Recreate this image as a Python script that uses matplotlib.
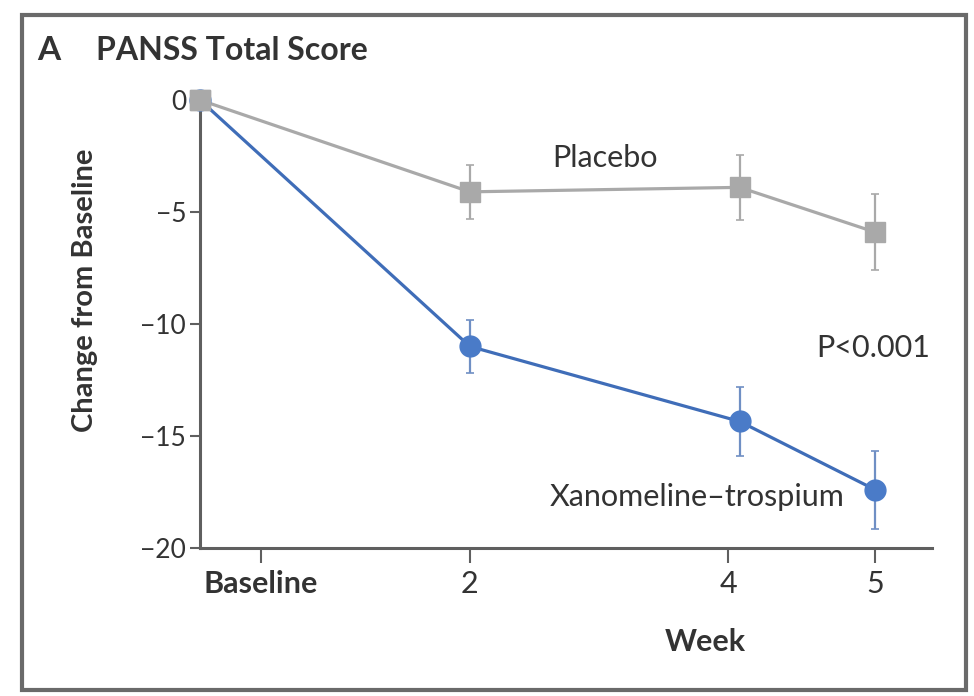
import matplotlib
matplotlib.use("Agg")
import matplotlib.pyplot as plt
from matplotlib.patches import Rectangle

plt.rcParams["font.family"] = ["Lato", "DejaVu Sans"]

# ── Данные ────────────────────────────────────────────────────────────────────
week_labels = ["Baseline", "2", "4", "5"]
placebo_mean = [0.0, -4.1, -3.9, -5.9]
placebo_err = [0.0, 1.2, 1.45, 1.7]
xano_mean = [0.0, -11.0, -14.35, -17.4]
xano_err = [0.0, 1.2, 1.55, 1.75]

# положения по оси x (ось нелинейная, как в оригинале)
point_x = [0.0, 2.09, 4.18, 5.23]
tick_x = [0.47, 2.09, 4.09, 5.23]

GRAY = "#a9a9a9"
BLUE = "#4a7bc8"
AXIS = "#5f5f5f"
TEXT = "#333333"

fig = plt.figure(figsize=(9.74, 6.96), dpi=100)
ax = fig.add_axes([200 / 974, 1 - 548 / 696, 732 / 974, 448 / 696])

# рамка вокруг всей картинки
fig.patches.append(Rectangle((22 / 974, 1 - 690 / 696), 944 / 974, 675 / 696,
                             transform=fig.transFigure, fill=False,
                             edgecolor="#6a6a6a", linewidth=3))

ax.errorbar(point_x[1:], placebo_mean[1:], yerr=placebo_err[1:], fmt="none",
            ecolor=GRAY, elinewidth=1.6, capsize=3, capthick=1.2, clip_on=False)
ax.plot(point_x, placebo_mean, color=GRAY, lw=2.3, marker="s", ms=14,
        clip_on=False, zorder=3)

ax.errorbar(point_x[1:], xano_mean[1:], yerr=xano_err[1:], fmt="none",
            ecolor="#6f8fc4", elinewidth=1.6, capsize=3, capthick=1.2, clip_on=False)
ax.plot(point_x, xano_mean, color="#3f6db8", lw=2.3, marker="o", ms=15,
        markerfacecolor=BLUE, markeredgecolor=BLUE, clip_on=False, zorder=3)
# квадрат плацебо в базовой точке сверху
ax.plot(point_x[:1], placebo_mean[:1], color=GRAY, marker="s", ms=14,
        clip_on=False, zorder=4)

ax.set_xlim(0, 5.67)
ax.set_ylim(-20, 0)
ax.set_yticks([0, -5, -10, -15, -20])
ax.set_yticklabels(["0", "\u22125", "\u221210", "\u221215", "\u221220"])
ax.set_xticks(tick_x)
ax.set_xticklabels(week_labels)
ax.get_xticklabels()[0].set_fontweight("bold")

for s in ["top", "right"]:
    ax.spines[s].set_visible(False)
for s in ["left", "bottom"]:
    ax.spines[s].set_color(AXIS)
    ax.spines[s].set_linewidth(2.2)
ax.tick_params(axis="y", length=7, width=1.5, color=AXIS, labelsize=19,
               labelcolor=TEXT, pad=3)
ax.tick_params(axis="x", length=11, width=1.5, color=AXIS, labelsize=22,
               labelcolor=TEXT, pad=5)

ax.set_ylabel("Change from Baseline", fontsize=21, fontweight="bold",
              color=TEXT)
ax.yaxis.set_label_coords((98 - 200) / 732, (548 - 290) / 448)
ax.set_xlabel("Week", fontsize=22, fontweight="bold", color=TEXT)
ax.xaxis.set_label_coords((705 - 200) / 732, -(642 - 548) / 448)
ax.xaxis.label.set_va("center")

ax.text(605 / 974, 1 - 158 / 696, "Placebo", transform=fig.transFigure,
        fontsize=22, color=TEXT, ha="center", va="center")
ax.text(873 / 974, 1 - 348 / 696, "P<0.001", transform=fig.transFigure,
        fontsize=22, color=TEXT, ha="center", va="center")
ax.text(697 / 974, 1 - 497 / 696, "Xanomeline\u2013trospium",
        transform=fig.transFigure, fontsize=22, color=TEXT,
        ha="center", va="center")

fig.text(37 / 974, 1 - 50 / 696, "A", fontsize=24, fontweight="bold",
         color=TEXT, ha="left", va="center")
fig.text(96 / 974, 1 - 50 / 696, "PANSS Total Score", fontsize=23,
         fontweight="bold", color=TEXT, ha="left", va="center")

fig.savefig("out.png", dpi=100)
